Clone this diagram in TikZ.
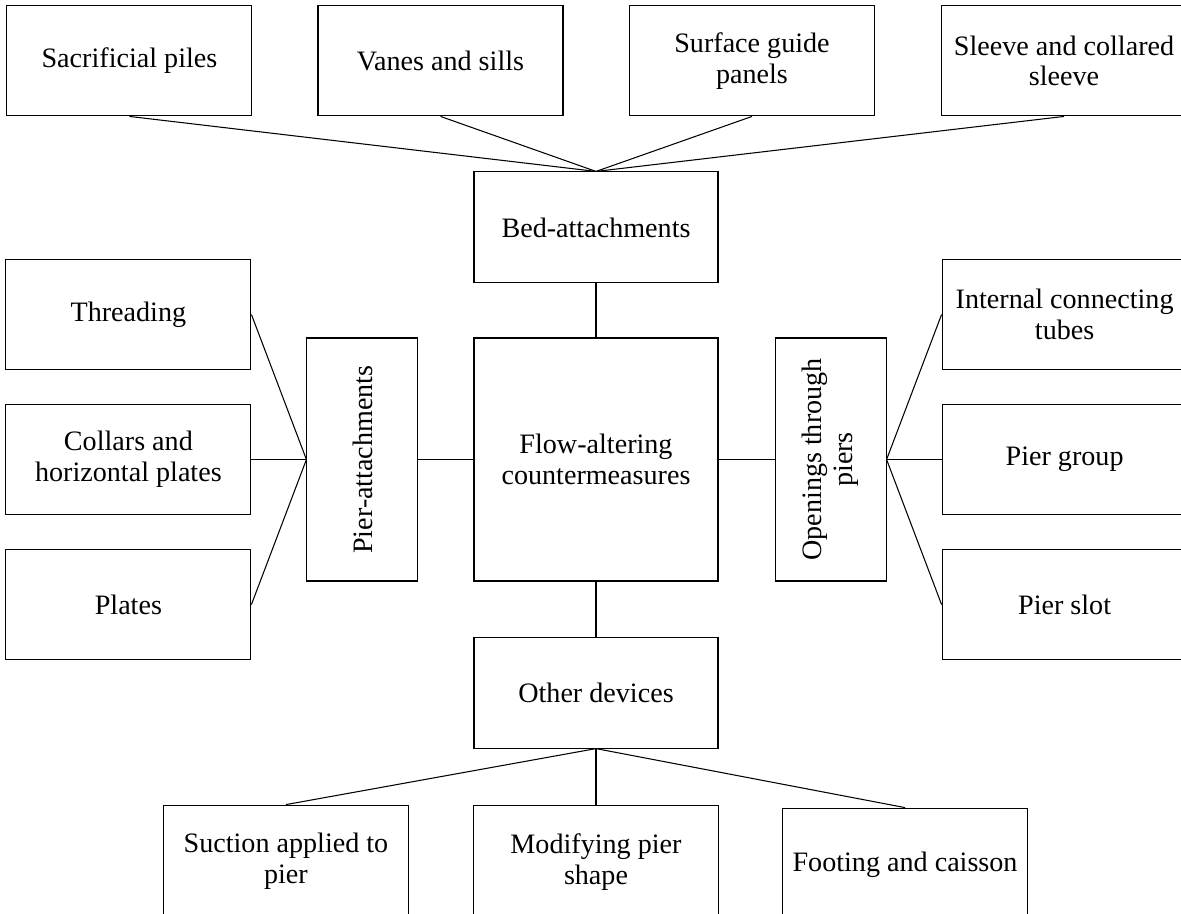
\documentclass[tikz,border=0pt]{standalone}
\usepackage{fontspec}
\setmainfont{Liberation Serif}
\usepackage{tikz}
\usetikzlibrary{positioning}

\begin{document}
\begin{tikzpicture}[
  node distance=1.1cm and 1.1cm,
  box/.style={draw,align=center,minimum width=4.9cm,minimum height=2.2cm,
              inner sep=0pt,line width=0.6pt,font=\fontsize{16}{17.6}\selectfont},
  hub/.style={box,minimum width=4.88cm,minimum height=2.22cm},
  tall/.style={box,minimum width=2.22cm,minimum height=4.86cm},
  low/.style={box,minimum height=2.26cm},
  link/.style={line width=0.6pt}
]
\useasboundingbox (0,0) rectangle (23.62,-18.26);
\clip (0,0) rectangle (23.62,-18.26);

% centre column
\node[hub,minimum height=4.86cm] (flow) at (11.92,-9.19) {Flow-altering\\countermeasures};
\node[hub,above=1.08cm of flow] (bed) {Bed-attachments};
\node[hub,below=1.1cm of flow] (other) {Other devices};
\node[tall,left=1.1cm of flow] (pierat) {\rotatebox{90}{Pier-attachments}};
\node[tall,right=1.12cm of flow] (openings)
  {\rotatebox{90}{\begin{tabular}{@{}c@{}}Openings through\\piers\end{tabular}}};

% bed-attachments row
\node[box,above=1.1cm of bed,xshift=-3.11cm] (vanes) {Vanes and sills};
\node[box,above=1.1cm of bed,xshift=3.12cm] (surface) {Surface guide\\panels};
\node[box,left=1.3cm of vanes] (sacrificial) {Sacrificial piles};
\node[box,right=1.32cm of surface] (sleeve) {Sleeve and collared\\sleeve};

% pier-attachments column
\node[box,left=1.1cm of pierat] (collars) {Collars and\\horizontal plates};
\node[box,above=0.68cm of collars] (threading) {Threading};
\node[box,below=0.68cm of collars] (plates) {Plates};

% openings column
\node[box,right=1.1cm of openings] (group) {Pier group};
\node[box,above=0.68cm of group] (tubes) {Internal connecting\\tubes};
\node[box,below=0.68cm of group] (slot) {Pier slot};

% other devices row
\node[low,below=1.12cm of other] (shape) {Modifying pier\\shape};
\node[low,left=1.28cm of shape] (suction) {Suction applied to\\pier};
\node[low,right=1.26cm of shape,yshift=-0.06cm] (footing) {Footing and caisson};

\draw[link] (bed)--(flow);
\draw[link] (flow)--(other);
\draw[link] (pierat)--(flow);
\draw[link] (flow)--(openings);

\draw[link] (sacrificial.south)--(bed.north);
\draw[link] (vanes.south)--(bed.north);
\draw[link] (surface.south)--(bed.north);
\draw[link] (sleeve.south)--(bed.north);

\draw[link] (threading.east)--(pierat.west);
\draw[link] (collars.east)--(pierat.west);
\draw[link] (plates.east)--(pierat.west);

\draw[link] (openings.east)--(tubes.west);
\draw[link] (openings.east)--(group.west);
\draw[link] (openings.east)--(slot.west);

\draw[link] (other.south)--(suction.north);
\draw[link] (other.south)--(shape.north);
\draw[link] (other.south)--(footing.north);
\end{tikzpicture}
\end{document}
